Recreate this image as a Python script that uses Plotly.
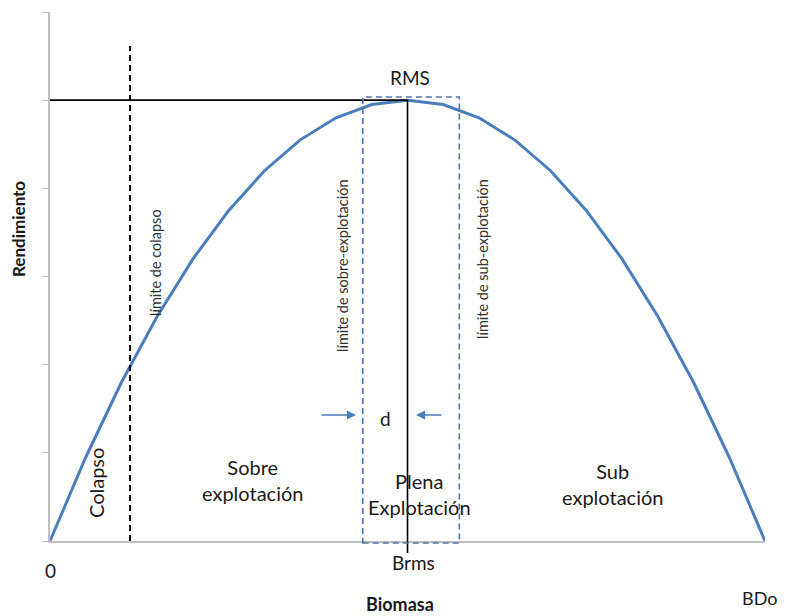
import plotly.graph_objects as go

# Data (yield vs biomass, arbitrary units)
biomasa = list(range(0, 21))
rendimiento = [0.0, 0.95, 1.8, 2.55, 3.2, 3.75, 4.2, 4.55, 4.8, 4.95, 5.0,
               4.95, 4.8, 4.55, 4.2, 3.75, 3.2, 2.55, 1.8, 0.95, 0.0]
y_ticks = [0, 1, 2, 3, 4, 5, 6]
x_colapso = 2.24
x_brms = 10
rms = 5
x_lim_sobre = 8.75
x_lim_sub = 11.45

OFF = 8  # page body margin
W, H = 787 - OFF, 616 - OFF
L, R, T, B = 50 - OFF, 22, 12 - OFF, 75
pw, ph = W - L - R, H - T - B

def px(x):  # window pixel x -> paper
    return (x - OFF - L) / pw

def py(y):  # window pixel y -> paper
    return (H - B - (y - OFF)) / ph

FONT = "Lato, 'Open Sans', sans-serif"
BLUE = "#4a7ebb"
DBLUE = "#4f74a8"

fig = go.Figure()
fig.add_trace(go.Scatter(x=biomasa, y=rendimiento, mode="lines",
                         line=dict(color=BLUE, width=3), cliponaxis=False,
                         hoverinfo="skip"))

shapes = [
    dict(type="line", xref="x", yref="y", x0=0, x1=x_brms, y0=rms, y1=rms,
         line=dict(color="black", width=1.6)),
    dict(type="line", xref="x", yref="paper", x0=x_brms, x1=x_brms,
         y0=py(553), y1=py(100), line=dict(color="black", width=1.6)),
    dict(type="line", xref="x", yref="paper", x0=x_colapso, x1=x_colapso,
         y0=py(541), y1=py(46), line=dict(color="black", width=2, dash="6px,4px")),
    dict(type="rect", xref="x", yref="paper", x0=x_lim_sobre, x1=x_lim_sub,
         y0=py(543), y1=py(97), line=dict(color=DBLUE, width=1.6, dash="6px,4px")),
]

ann = []
def txt(text, x, y, size=15, angle=0, color="#1a1a1a", bold=False):
    ann.append(dict(text=f"<b>{text}</b>" if bold else text, x=px(x), y=py(y),
                    xref="paper", yref="paper", showarrow=False, textangle=angle,
                    font=dict(family=FONT, size=size, color=color),
                    xanchor="center", yanchor="middle"))

txt("RMS", 410, 78, 19)
txt("límite de colapso", 155, 263, 14.5, -90, "#333")
txt("límite de sobre-explotación", 342, 266, 14.5, -90, "#333")
txt("límite de sub-explotación", 482, 259, 14.5, -90, "#333")
txt("Colapso", 96, 483, 20, -90)
txt("Sobre<br>explotación", 252, 480, 20)
txt("Plena<br>Explotación", 419, 494, 20)
txt("Sub<br>explotación", 612, 484, 20)
txt("d", 385, 418, 19)
txt("0", 50, 570, 19)
txt("Brms", 414, 562, 19)
txt("BDo", 759, 598, 18)
txt("Biomasa", 400, 604, 18, 0, "#1a1a1a", True)
txt("Rendimiento", 18, 229, 17, -90, "#1a1a1a", True)

for (x0, x1) in [(320, 356), (443, 416)]:
    ann.append(dict(x=px(x1), y=py(415), ax=x0 - x1, ay=0,
                    xref="paper", yref="paper", axref="pixel", ayref="pixel",
                    showarrow=True, arrowhead=2, arrowsize=1.3, arrowwidth=1.4,
                    arrowcolor=BLUE, text=""))

fig.update_layout(
    width=W, height=H, margin=dict(l=L, r=R, t=T, b=B),
    paper_bgcolor="white", plot_bgcolor="white", showlegend=False,
    shapes=shapes, annotations=ann,
    xaxis=dict(range=[0, 20], showgrid=False, zeroline=False, showline=True,
               linecolor="#bfbfbf", linewidth=1.5, ticks="", showticklabels=False),
    yaxis=dict(range=[0, 6], showgrid=False, zeroline=False, showline=True,
               linecolor="#bfbfbf", linewidth=1.5, ticks="outside", ticklen=6,
               tickcolor="#bfbfbf", tickvals=y_ticks, showticklabels=False),
)

fig.write_html("out.html")
